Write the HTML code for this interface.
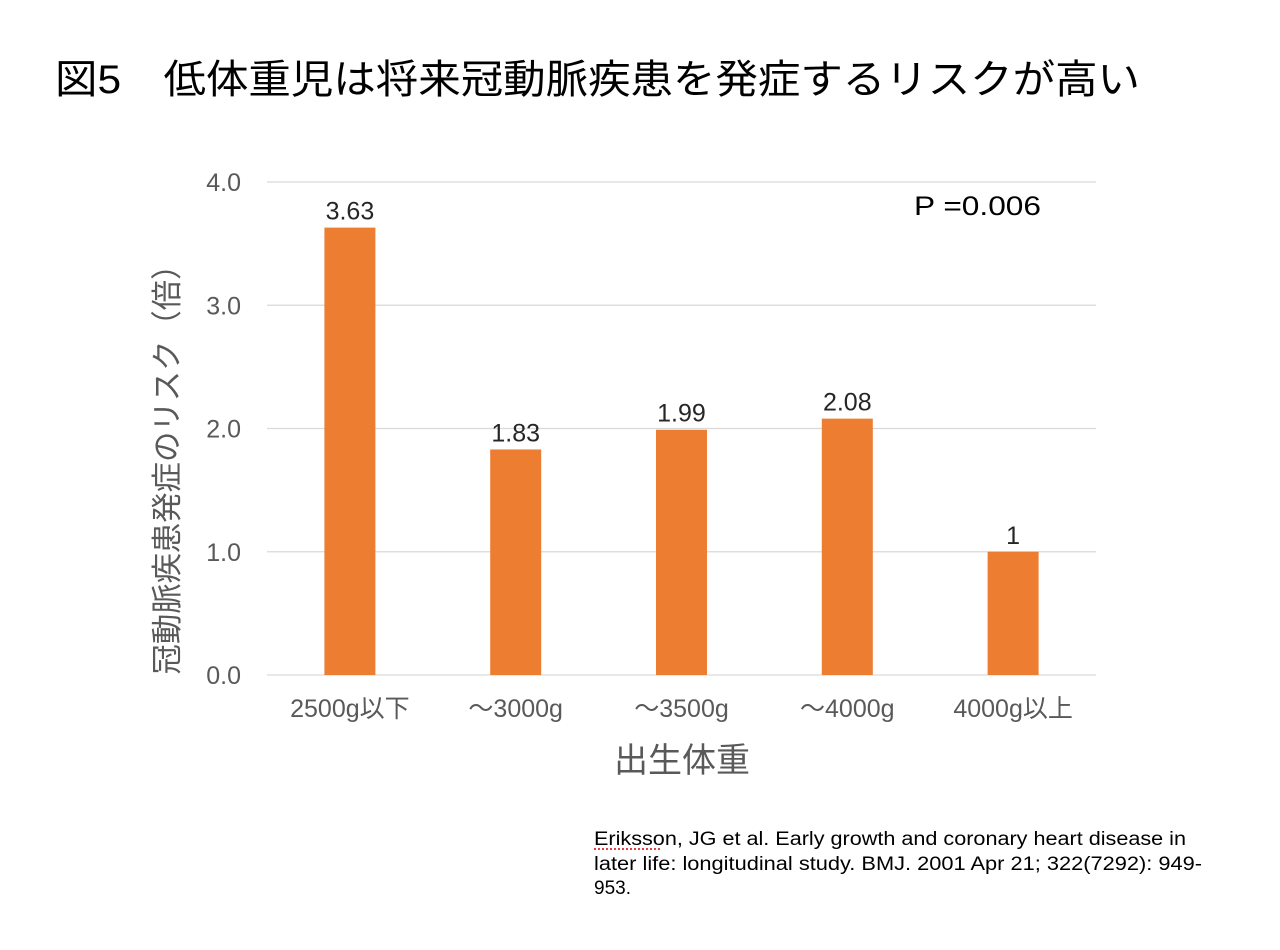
<!DOCTYPE html>
<html><head><meta charset="utf-8"><style>
html,body{margin:0;padding:0;background:#fff;}
svg{display:block;font-family:"Liberation Sans","Noto Sans CJK JP",sans-serif;}
</style></head><body>
<svg id="chart" width="1280" height="950" viewBox="0 0 1280 950">
  <text x="55" y="93" font-size="40" fill="#000" textLength="1085" lengthAdjust="spacingAndGlyphs">図5　低体重児は将来冠動脈疾患を発症するリスクが高い</text>
  <g id="grid"></g>
  <g id="bars"></g>
  <text x="914" y="215" font-size="27" fill="#000" textLength="127" lengthAdjust="spacingAndGlyphs">P =0.006</text>
  <text x="682" y="772" font-size="34" fill="#595959" text-anchor="middle">出生体重</text>
  <text transform="translate(178,462) rotate(-90)" font-size="31" fill="#595959" text-anchor="middle" textLength="425" lengthAdjust="spacingAndGlyphs">冠動脈疾患発症のリスク（倍）</text>
  <g font-size="19" fill="#000">
    <text x="594" y="845" textLength="592" lengthAdjust="spacingAndGlyphs">Eriksson, JG et al. Early growth and coronary heart disease in</text>
    <text x="594" y="870" textLength="608" lengthAdjust="spacingAndGlyphs">later life: longitudinal study. BMJ. 2001 Apr 21; 322(7292): 949-</text>
    <text x="594" y="894">953.</text>
    <line x1="594" y1="849" x2="660" y2="849" stroke="#d00" stroke-width="1.5" stroke-dasharray="2,2"/>
  </g>
</svg>
<script>
const categories = ["2500g以下","～3000g","～3500g","～4000g","4000g以上"];
const values = [3.63, 1.83, 1.99, 2.08, 1];
const valueLabels = ["3.63","1.83","1.99","2.08","1"];
const yTicks = [0, 1, 2, 3, 4];
const yTickLabels = ["0.0","1.0","2.0","3.0","4.0"];

const NS = "http://www.w3.org/2000/svg";
const plotL = 267, plotR = 1096, plotB = 675, plotT = 182, yMax = 4;
const yScale = v => plotB - (v / yMax) * (plotB - plotT);
const band = (plotR - plotL) / categories.length;
const xCenter = i => plotL + band * (i + 0.5);
const barW = 51;
function mk(tag, attrs, parent){const e=document.createElementNS(NS,tag);for(const k in attrs)e.setAttribute(k,attrs[k]);parent.appendChild(e);return e;}
const grid = document.getElementById('grid');
yTicks.forEach((t,i)=>{
  const y = yScale(t);
  const l = mk('line',{x1:plotL,x2:plotR,y1:y,y2:y,stroke:'#d9d9d9','stroke-width':1.3},grid);
  
  
  const tx = mk('text',{x:241,y:y+9,'font-size':25,fill:'#595959','text-anchor':'end'},grid);
  tx.textContent = yTickLabels[i];
  
  
});
const bars = document.getElementById('bars');
categories.forEach((c,i)=>{
  const cx = xCenter(i), y = yScale(values[i]);
  const r = mk('rect',{x:cx-barW/2,y:y,width:barW,height:plotB-y,fill:'#ed7d31'},bars);
  
  
  const vl = mk('text',{x:cx,y:y-8,'font-size':25,fill:'#262626','text-anchor':'middle'},bars);
  vl.textContent = valueLabels[i];
  
  
  const xl = mk('text',{x:cx,y:717,'font-size':25,fill:'#595959','text-anchor':'middle'},bars);
  xl.textContent = c;
  
  
});
</script>
</body></html>
